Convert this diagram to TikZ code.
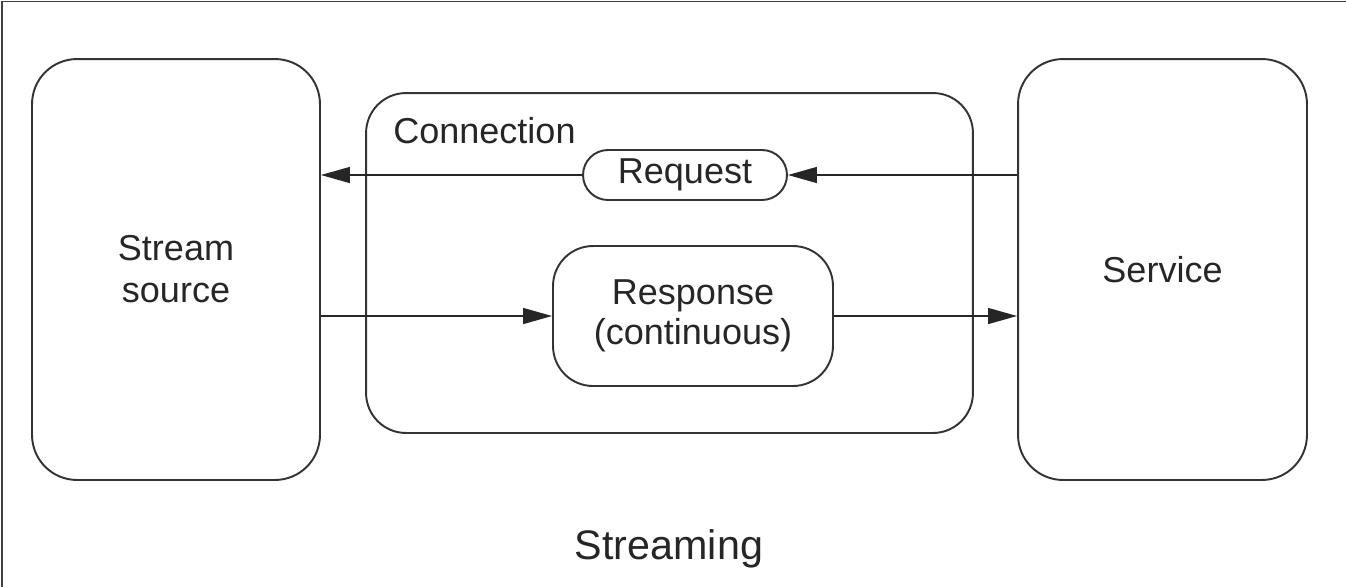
\documentclass[tikz,border=0pt]{standalone}
\usepackage{fontspec}
\setmainfont{Liberation Sans}
\usetikzlibrary{arrows.meta,positioning}

\tikzset{
	box/.style={draw=black!80, line width=1.1pt, rounded corners=0.9cm, align=center, text=black!85, font=\fontsize{20.5}{24}\selectfont},
	lbl/.style={text=black!85, font=\fontsize{20.5}{24}\selectfont, inner sep=0pt},
	arr/.style={draw=black!85, line width=0.8pt, -{Triangle[length=0.58cm, width=0.32cm]}}
}

\begin{document}
\begin{tikzpicture}[x=0.02cm, y=-0.02cm]
		\useasboundingbox (0,0) rectangle (1346,586);
		\draw [line width=1pt, black!75] (2,590) -- (2,1.5) -- (1350,1.5);
		\node [box, minimum width=5.76cm, minimum height=8.42cm](src) at (176,269.5) {Stream\\source};
		\node [box, minimum width=5.78cm, minimum height=8.42cm](svc) at (1162.5,269.5) {Service};
		\node [box, rounded corners=0.8cm, minimum width=12.14cm, minimum height=6.8cm](conn) at (669.5,263) {};
		\node [lbl, anchor=west](conn_lbl) at (393,131) {Connection};
		\node [box, rounded corners=0.5cm, minimum width=4.08cm, minimum height=1.0cm, inner sep=0pt](req) at (685,175) {Request};
		\node [box, rounded corners=0.8cm, minimum width=5.6cm, minimum height=2.8cm, font=\fontsize{20.5}{23}\selectfont](resp) at (693,316) {Response\\(continuous)};
		\draw [arr] (svc.west |- req.east) -- (req.east);
		\draw [arr] (req.west) -- (src.east |- req.west);
		\draw [arr] (src.east |- resp.west) -- (resp.west);
		\draw [arr] (resp.east) -- (svc.west |- resp.east);
		\node [lbl, font=\fontsize{23.5}{28}\selectfont](title) at (669,549) {Streaming};
\end{tikzpicture}
\end{document}
